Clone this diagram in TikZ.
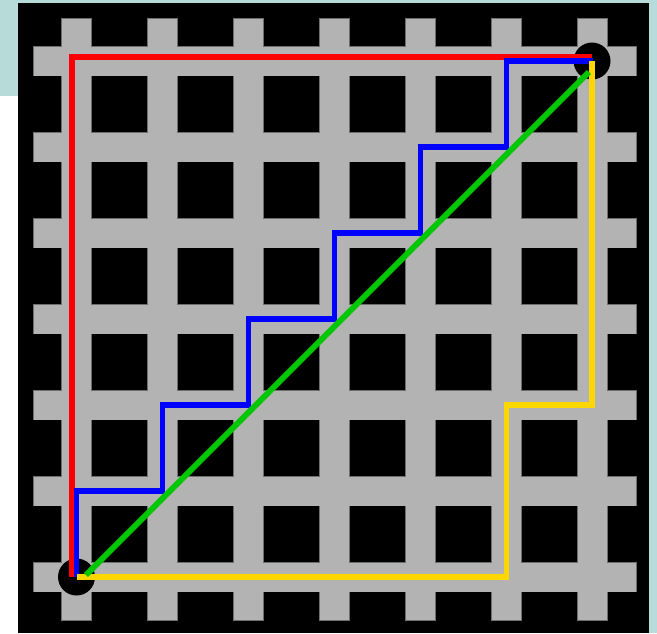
\documentclass[tikz,border=0pt]{standalone}
\definecolor{tealbg}{RGB}{182,219,217}
\definecolor{gridgray}{RGB}{179,179,179}
\definecolor{gridedge}{RGB}{110,110,110}
\definecolor{pred}{RGB}{255,0,0}
\definecolor{pblue}{RGB}{0,0,255}
\definecolor{pyellow}{RGB}{255,215,0}
\definecolor{pgreen}{RGB}{0,200,0}
\begin{document}
\begin{tikzpicture}[x=1pt,y=-1pt,
  route/.style={line width=5.8pt, line join=miter, line cap=butt},
  endpt/.style={circle, fill=black, minimum size=37pt, inner sep=0pt}]
\useasboundingbox (0,0) rectangle (657,633);
\fill[tealbg] (0,0) rectangle (657,633);
\fill[white] (0,96) rectangle (18,633);
\fill[black] (18,3) rectangle (649,633);
% grid: outline pass, then fill pass
\foreach \k in {0,...,6}{
  \filldraw[fill=gridgray, draw=gridedge, line width=1.2pt]
    ({76.5+86*\k-14.5},19) rectangle ({76.5+86*\k+14.5},620);
  \filldraw[fill=gridgray, draw=gridedge, line width=1.2pt]
    (34,{61+86*\k-14.5}) rectangle (636,{61+86*\k+14.5});
}
\foreach \k in {0,...,6}{
  \fill[gridgray] ({76.5+86*\k-14.5},19) rectangle ({76.5+86*\k+14.5},620);
  \fill[gridgray] (34,{61+86*\k-14.5}) rectangle (636,{61+86*\k+14.5});
}
% end points
\node[endpt] (start) at (76.5,577) {};
\node[endpt] (goal) at (592,61) {};
% red route
\draw[route, pred] ([xshift=-4.5pt]start.center) |- ([yshift=4pt]goal.center);
% blue route
\draw[route, pblue] (start.center)
  \foreach \i in {1,...,6}{ -- ++(0,-86) -- ++(86,0) };
% yellow route
\draw[route, pyellow] (start.center) -- ++(430,0) -- ++(0,-172) -| (goal.center);
% green route
\draw[route, pgreen] ([shift={(9.5,-2)}]start.center) -- ([shift={(-3,11)}]goal.center);
\end{tikzpicture}
\end{document}
